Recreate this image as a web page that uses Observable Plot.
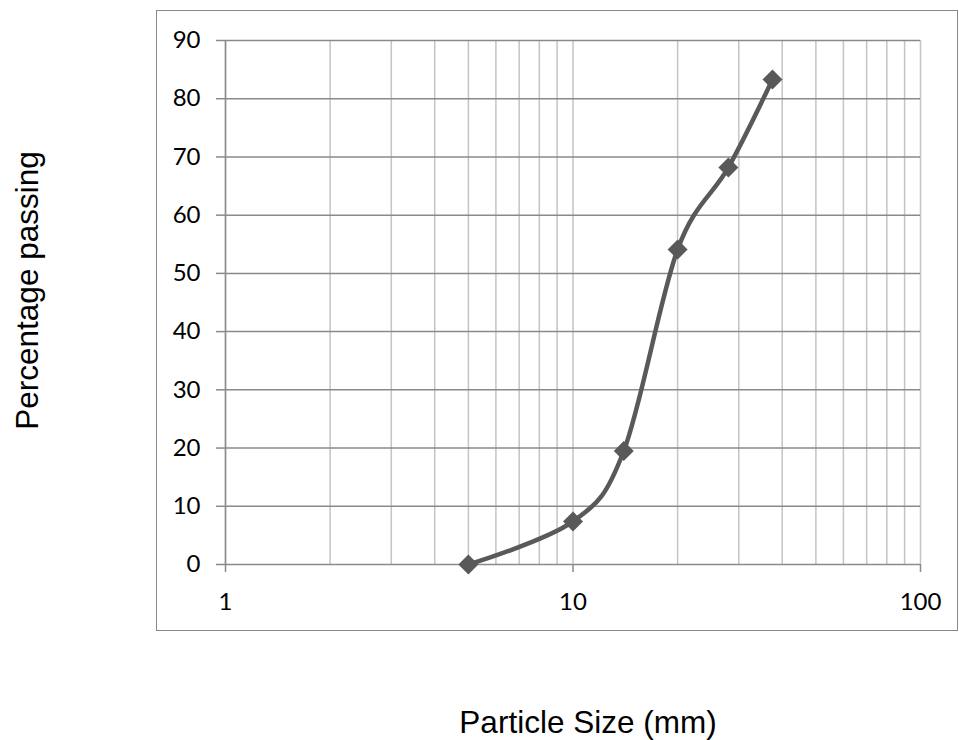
<!DOCTYPE html>
<html>
<head>
<meta charset="utf-8">
<script src="https://cdn.jsdelivr.net/npm/d3@7"></script>
<script src="https://cdn.jsdelivr.net/npm/@observablehq/plot@0.6"></script>
<style>
  html, body { margin: 0; padding: 0; background: #fff; }
  #wrap { position: relative; width: 959px; height: 740px; }
  #border { position: absolute; left: 156px; top: 10px; width: 800px; height: 619px; border: 1.5px solid #888; pointer-events: none; }
  #chart svg { display: block; }
</style>
</head>
<body>
<div id="wrap">
  <div id="border"></div>
  <div id="chart"></div>
</div>
<script>
// Data
const sizes = [5, 10, 14, 20, 28, 37.5];           // particle size (mm)
const passing = [0, 7.4, 19.5, 54.1, 68.2, 83.3];  // percentage passing
const xTickLabels = [1, 10, 100];
const yTickLabels = [0, 10, 20, 30, 40, 50, 60, 70, 80, 90];
const xGridValues = [1, 2, 3, 4, 5, 6, 7, 8, 9, 10, 20, 30, 40, 50, 60, 70, 80, 90, 100];
const xTitle = "Particle Size (mm)";
const yTitle = "Percentage passing";

const data = sizes.map((s, i) => ({size: s, pct: passing[i]}));

const chart = Plot.plot({
  width: 959,
  height: 740,
  marginLeft: 225,
  marginRight: 39,
  marginTop: 40,
  marginBottom: 176,
  style: {fontFamily: "Lato, sans-serif", background: "#fff", overflow: "visible"},
  x: {type: "log", domain: [1, 100]},
  y: {domain: [0, 90]},
  marks: [
    Plot.ruleX(xGridValues, {stroke: "#c4c4c4", strokeWidth: 1.5}),
    Plot.ruleY(yTickLabels, {stroke: "#8a8a8a", strokeWidth: 1.5}),
    Plot.ruleX([1], {stroke: "#8a8a8a", strokeWidth: 1.5}),
    Plot.axisY({
      ticks: yTickLabels, tickSize: 9, tickPadding: 16, label: null,
      stroke: "#8a8a8a", strokeWidth: 1.5, fontSize: 24, fill: "#000",
      tickFormat: d => String(d)
    }),
    Plot.axisX({
      ticks: xTickLabels, tickSize: 8, tickPadding: 20, label: null,
      stroke: "#8a8a8a", strokeWidth: 1.5, fontSize: 24, fill: "#000",
      tickFormat: d => String(d)
    }),
    Plot.line(data, {x: "size", y: "pct", curve: "cardinal", stroke: "#595959", strokeWidth: 4.5}),
    Plot.dot(data, {x: "size", y: "pct", symbol: "diamond2", r: 9, fill: "#595959", stroke: "none"}),
    Plot.text([yTitle], {
      frameAnchor: "left", rotate: -90, lineAnchor: "top", textAnchor: "middle",
      dx: -210, dy: -12, fontSize: 31.5, fontFamily: "Liberation Sans, Arial, sans-serif", fill: "#000"
    }),
    Plot.text([xTitle], {
      frameAnchor: "bottom", lineAnchor: "top", textAnchor: "middle",
      dx: 15, dy: 146, fontSize: 31.5, fontFamily: "Liberation Sans, Arial, sans-serif", fill: "#000"
    })
  ]
});
document.getElementById("chart").appendChild(chart);
</script>
</body>
</html>
